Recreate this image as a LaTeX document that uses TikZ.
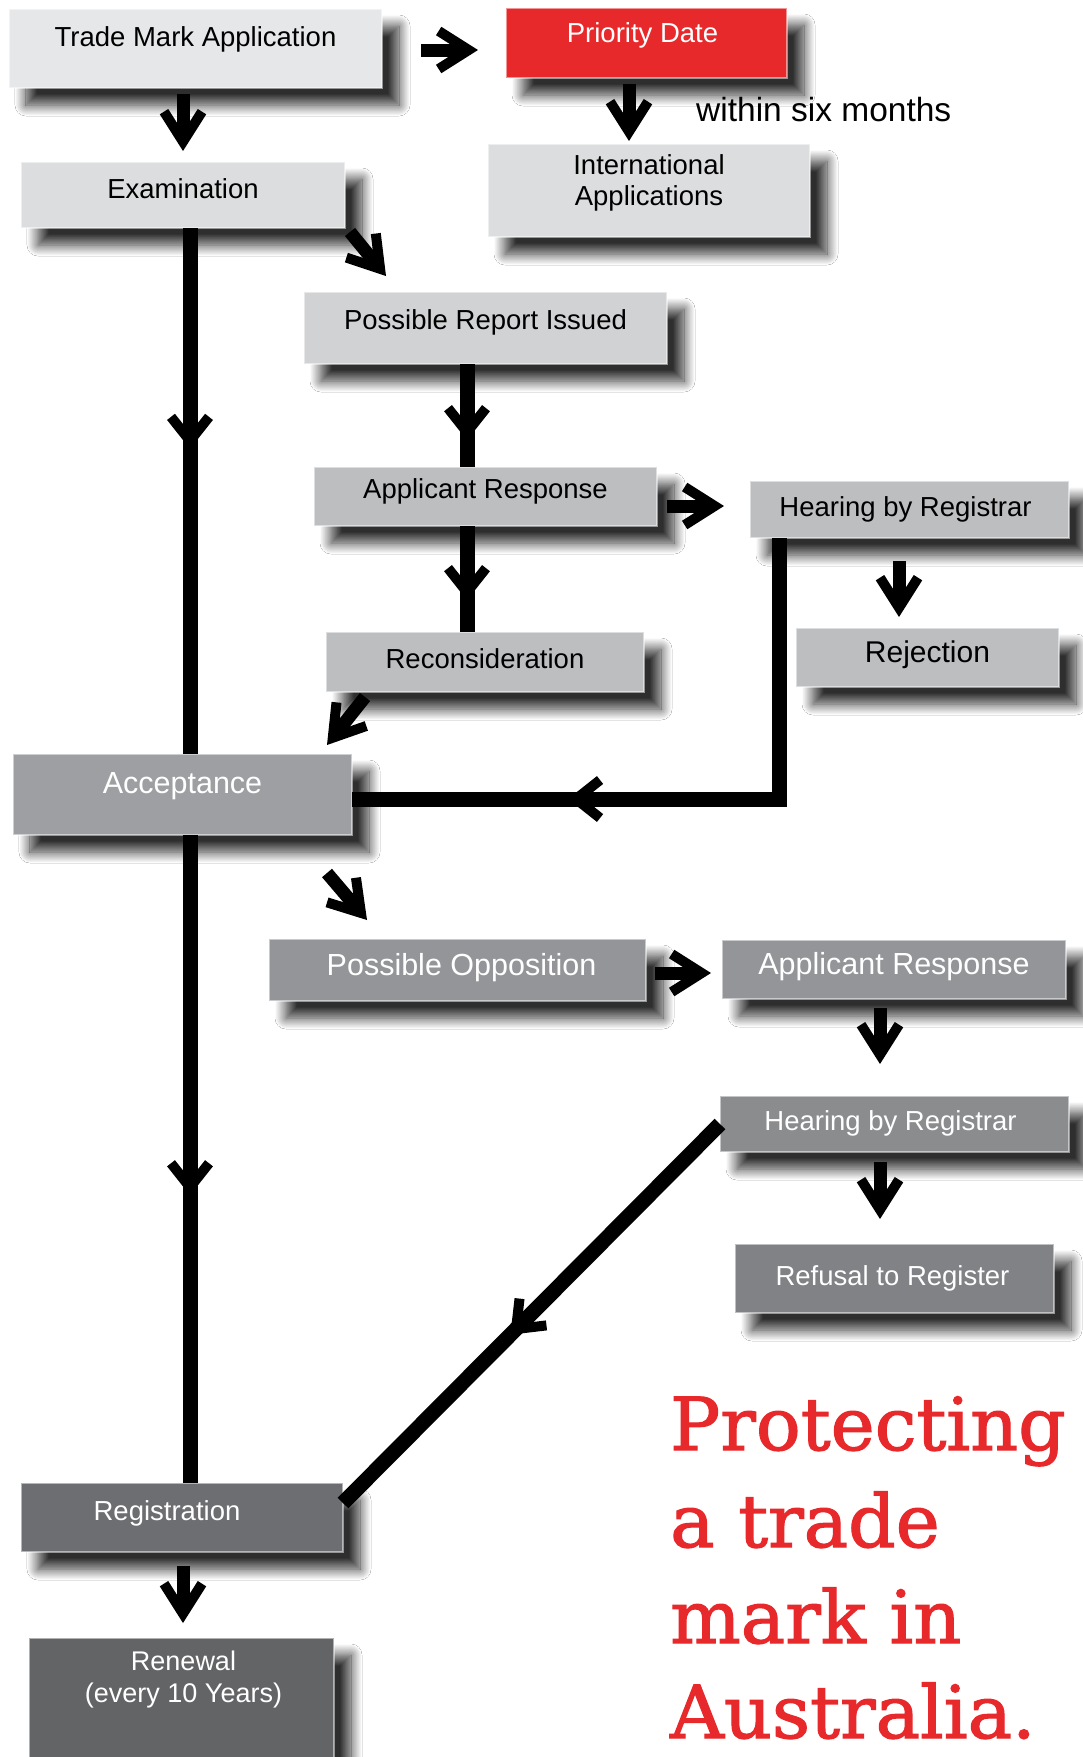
\documentclass[tikz,border=0pt]{standalone}
\usepackage{fontspec}
\setmainfont{Liberation Sans}
\newfontfamily\titlefont[FakeBold=1.6, FakeStretch=1.02]{DejaVu Serif}
\usetikzlibrary{arrows.meta,calc,decorations.markings,shadows.blur}
\definecolor{cA}{HTML}{E6E7E8}
\definecolor{cRed}{HTML}{E8292C}
\definecolor{cB}{HTML}{DCDDDE}
\definecolor{cC}{HTML}{D1D2D4}
\definecolor{cD}{HTML}{BCBEC0}
\definecolor{cE}{HTML}{9D9FA2}
\definecolor{cF}{HTML}{939598}
\definecolor{cG}{HTML}{8A8C8E}
\definecolor{cH}{HTML}{808285}
\definecolor{cI}{HTML}{6D6E71}
\definecolor{cJ}{HTML}{636466}
\tikzset{
  bigbarb/.tip={Straight Barb[length=30pt, width=38pt, line width=10pt]},
  midbarb/.tip={Straight Barb[length=24pt, width=38pt, line width=10pt]},
  box/.style={rectangle, inner sep=0pt, outer sep=0pt, draw=white, draw opacity=.5, line width=1.5pt,
    blur shadow={shadow xshift=17pt, shadow yshift=-17pt, shadow blur radius=11pt, shadow blur steps=20, shadow opacity=82}},
  lbk/.style={font=\fontsize{27.5}{30}\selectfont, text=black, inner sep=0pt, text height=19.8pt, text depth=0pt},
  lbw/.style={font=\fontsize{27.5}{30}\selectfont, text=white, inner sep=0pt, text height=19.8pt, text depth=0pt},
  lbwb/.style={font=\fontsize{30.5}{33}\selectfont, text=white, inner sep=0pt, text height=22pt, text depth=0pt},
  bigar/.style={line width=13pt, arrows={-bigbarb}},
  conn/.style={line width=15pt},
  midmark/.style={postaction={decorate}, decoration={markings, mark=at position #1 with {\arrow{midbarb}}}},
  ttl/.style={font=\titlefont\fontsize{73}{96}\selectfont, text=cRed, anchor=base west, inner sep=0pt}
}
\begin{document}
\begin{tikzpicture}[x=1pt, y=-1pt]
\useasboundingbox[fill=white] (0,0) rectangle (1083,1757);
% boxes
\node[box, fill=cA, minimum width=373, minimum height=79,
  label={[lbk, yshift=11.5]center:Trade Mark Application}] (tma) at (195.5,48.5) {};
\node[box, fill=cRed, minimum width=281, minimum height=70,
  label={[lbw, yshift=10, xshift=-4]center:Priority Date}] (pd) at (646.5,43) {};
\node[box, fill=cB, minimum width=322, minimum height=93,
  label={[lbk, yshift=26]center:International},
  label={[lbk, yshift=-5.5]center:Applications}] (intapp) at (649,190.5) {};
\node[box, fill=cB, minimum width=324, minimum height=66,
  label={[lbk, yshift=6.5]center:Examination}] (exam) at (183,195) {};
\node[box, fill=cC, minimum width=363, minimum height=72,
  label={[lbk, yshift=8]center:Possible Report Issued}] (pri) at (485.5,328) {};
\node[box, fill=cD, minimum width=343, minimum height=59,
  label={[lbk, yshift=8]center:Applicant Response}] (ar1) at (485.5,496.5) {};
\node[box, fill=cD, minimum width=319, minimum height=57,
  label={[lbk, yshift=3, xshift=-4]center:Hearing by Registrar}] (hear1) at (909.5,509.5) {};
\node[box, fill=cD, minimum width=318, minimum height=60,
  label={[lbk, yshift=3.5]center:Reconsideration}] (recon) at (485,662) {};
\node[box, fill=cD, minimum width=263, minimum height=59,
  label={[lbk, font=\fontsize{30}{33}\selectfont, text height=21.6pt, yshift=5.5]center:Rejection}] (rej) at (927.5,657.5) {};
\node[box, fill=cE, minimum width=339, minimum height=81,
  label={[lbwb, yshift=12]center:Acceptance}] (acc) at (182.5,794.5) {};
\node[box, fill=cF, minimum width=377, minimum height=62,
  label={[lbwb, yshift=5.5, xshift=4]center:Possible Opposition}] (po) at (457.5,970) {};
\node[box, fill=cF, minimum width=344, minimum height=59,
  label={[lbwb, yshift=6.5]center:Applicant Response}] (ar2) at (894,969.5) {};
\node[box, fill=cG, minimum width=349, minimum height=56,
  label={[lbw, yshift=3.5, xshift=-4]center:Hearing by Registrar}] (hear2) at (894.5,1124) {};
\node[box, fill=cH, minimum width=319, minimum height=69,
  label={[lbw, yshift=2.5, xshift=-2]center:Refusal to Register}] (ref) at (894.5,1278.5) {};
\node[box, fill=cI, minimum width=322, minimum height=69,
  label={[lbw, yshift=7, xshift=-15]center:Registration}] (reg) at (182,1517.5) {};
\node[box, fill=cJ, minimum width=305, minimum height=142,
  label={[lbw, font=\fontsize{27}{30}\selectfont, text height=19.4pt, yshift=48, xshift=2]center:Renewal},
  label={[lbw, font=\fontsize{27}{30}\selectfont, text height=19.4pt, yshift=16.5, xshift=2]center:(every 10 Years)}] (ren) at (181.5,1709) {};
% free text
\node[font=\fontsize{33.5}{36}\selectfont, anchor=base west, inner sep=0pt] (six) at (696,121.9) {within six months};
\node[ttl] (t1) at (670,1450) {Protecting};
\node[ttl] (t2) at (670,1547) {a trade};
\node[ttl] (t3) at (670,1643) {mark in};
\node[ttl] (t4) at (670,1738) {Australia.};
% short arrows
\draw[bigar] ($(tma.south -| exam.north)+(0,6)$) -- ($(exam.north)+(0,-11)$);
\draw[bigar] ($(tma.east)+(39,1.5)$) -- ($(pd.west)+(-28,7)$);
\draw[bigar] ($(pd.south)+(-17.5,6)$) -- ($(intapp.north)+(-20,-3)$);
\draw[bigar] ($(exam.south east)+(5,4)$) -- ($(pri.north west)+(82,-16)$);
\draw[bigar] ($(ar1.east)+(10,9.5)$) -- ($(hear1.west)+(-26,-3.5)$);
\draw[bigar] ($(hear1.south)+(-10.5,23)$) -- ($(rej.north)+(-28.5,-11)$);
\draw[bigar] ($(recon.south west)+(39,5)$) -- ($(acc.north east)+(-25,-9)$);
\draw[bigar] ($(acc.south east)+(-25,38)$) -- ($(po.north west)+(98,-19)$);
\draw[bigar] ($(po.east)+(9,3)$) -- ($(ar2.west)+(-11,3.5)$);
\draw[bigar] ($(ar2.south)+(-14,9)$) -- ($(hear2.north)+(-14.5,-32)$);
\draw[bigar] ($(hear2.south)+(-14.5,10)$) -- ($(ref.north)+(-14.5,-25)$);
\draw[bigar] ($(reg.south)+(1,14)$) -- ($(ren.north)+(1.5,-15)$);
% long connectors
\draw[conn, midmark=0.42] ($(exam.south)+(7,0)$) -- ($(acc.north)+(7.5,0)$);
\draw[conn, midmark=0.556] ($(acc.south)+(7.5,0)$) -- ($(reg.north)+(8,0)$);
\draw[conn, midmark=0.74] ($(pri.south)+(-18.5,0)$) -- ($(ar1.north)+(-18.5,0)$);
\draw[conn, midmark=0.70] ($(ar1.south)+(-18.5,0)$) -- ($(recon.north)+(-18,0)$);
\draw[conn, midmark=472pt] ($(hear1.south west)+(29,0)$) |- ($(acc.east)+(0,4.5)$);
\draw[conn, midmark=0.556] (hear2.west) -- ($(reg.east)+(0,-14.5)$);
\end{tikzpicture}
\end{document}
